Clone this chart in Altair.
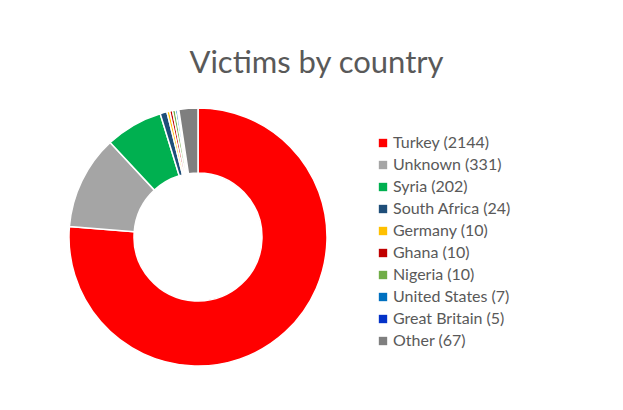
import altair as alt
import pandas as pd

countries = ["Turkey", "Unknown", "Syria", "South Africa", "Germany", "Ghana",
             "Nigeria", "United States", "Great Britain", "Other"]
victims = [2144, 331, 202, 24, 10, 10, 10, 7, 5, 67]
colors = ["#FF0000", "#A5A5A5", "#00B050", "#1F4E79", "#FFC000", "#C00000",
          "#70AD47", "#0070C0", "#0432C8", "#7F7F7F"]

labels = [f"{c} ({v})" for c, v in zip(countries, victims)]
df = pd.DataFrame({"label": labels, "victims": victims, "idx": list(range(len(labels)))})

chart = alt.Chart(df).mark_arc(
    radius=129, radius2=64, stroke="white", strokeWidth=1.5
).encode(
    theta=alt.Theta("victims:Q", stack=True),
    order=alt.Order("idx:Q"),
    x=alt.value(190),
    y=alt.value(139),
    color=alt.Color(
        "label:N",
        sort=labels,
        scale=alt.Scale(domain=labels, range=colors),
        legend=alt.Legend(
            title=None, orient="none", legendX=367, legendY=37,
            symbolType="square", symbolSize=70, symbolStrokeWidth=0,
            labelFont="Lato", labelFontSize=16, labelColor="#595959",
            rowPadding=6, labelOffset=2,
        ),
    ),
).properties(
    width=607, height=304,
    title=alt.TitleParams(
        "Victims by country", font="Lato", fontSize=31, fontWeight="normal",
        color="#595959", anchor="middle", dx=5, offset=18,
    ),
    padding={"top": 90, "left": 0, "right": 0, "bottom": 0},
    autosize=alt.AutoSizeParams(type="none"),
).configure_view(stroke=None)

chart.save("out.html", embed_options={"renderer": "svg", "actions": False})
